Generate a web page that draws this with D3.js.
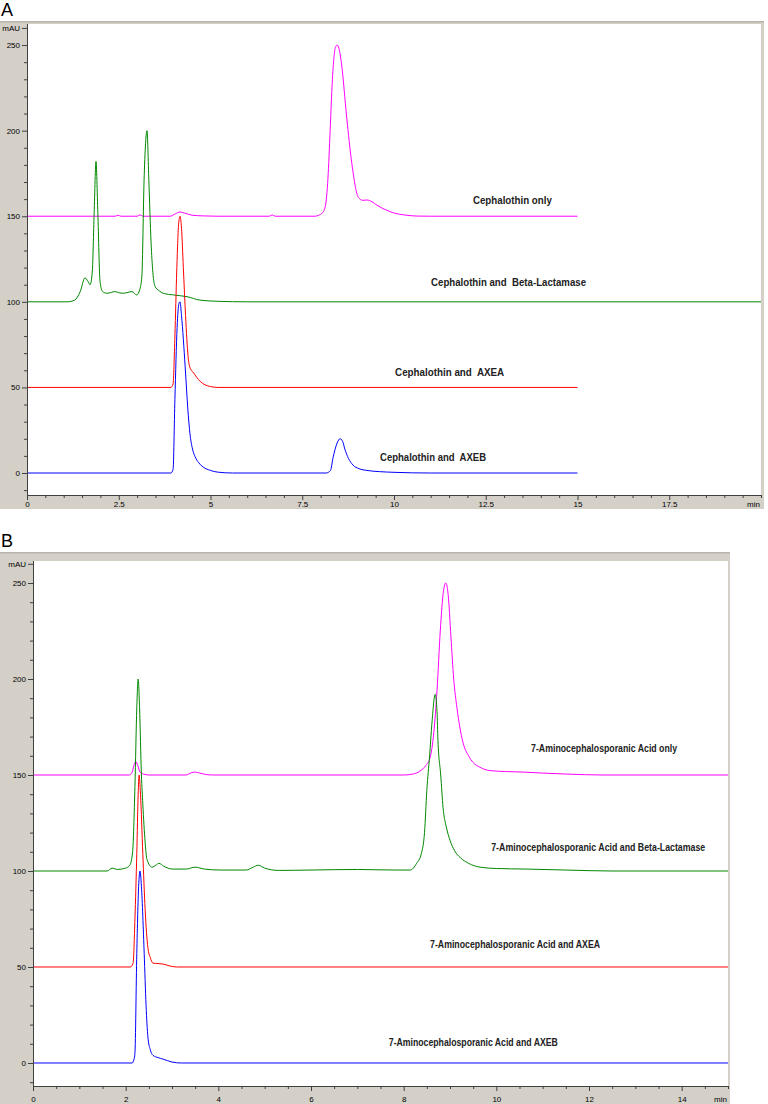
<!DOCTYPE html>
<html>
<head>
<meta charset="utf-8">
<script src="https://cdn.jsdelivr.net/npm/d3@7"></script>
<style>
  body { margin: 0; background: #fff; }
  svg { display: block; }
  .tick text { font-family: "Liberation Sans", Arial, sans-serif; font-size: 8px; fill: #000; }
  .tick line, .domain { stroke: #404040; }
  .trace-label { font-family: "Liberation Sans Narrow", "Arial Narrow", "Liberation Sans", sans-serif; font-weight: bold; font-size: 11px; fill: #222; white-space: pre; }
  .panel-letter { font-family: "Liberation Sans", Arial, sans-serif; font-size: 18px; fill: #000; }
</style>
</head>
<body>
<div id="wrapper"></div>
<script>
// ---- DATA (time in min, signal in mAU incl. stacking offset) ----
const cephOnly = [
  [0,150],[2.4,150],[2.48,150.6],[2.56,150],[3.0,150],[3.08,150.8],[3.16,150],[3.9,150],[4.05,151.5],
  [4.17,152.5],[4.3,151.8],[4.5,150.6],[4.8,150.2],[5.2,150],[6.6,150],[6.68,150.8],[6.76,150],
  [7.85,150],[7.95,150.6],[8.05,152],[8.13,156],[8.2,172],[8.26,200],[8.31,225],[8.36,242],[8.41,249],
  [8.45,250],[8.5,248],[8.57,239],[8.71,208],[8.85,181],[9.03,161],[9.15,159.3],[9.26,159.5],[9.4,158.5],
  [9.53,156.5],[9.75,154],[9.98,152],[10.3,150.7],[10.63,150.1],[11,150],[15,150]
];
const cephBetaLactamase = [
  [0,100],[1.1,100],[1.3,101],[1.45,106],[1.58,114],[1.66,112],[1.72,110],[1.78,118],[1.83,152],
  [1.88,182],[1.93,152],[1.99,112],[2.06,106],[2.18,105],[2.3,105.5],[2.4,106],[2.52,105.2],[2.62,105],
  [2.75,105.5],[2.86,106],[2.99,104],[3.07,107],[3.13,115],[3.19,171],[3.27,200],[3.32,171],[3.38,135],
  [3.43,117],[3.49,109],[3.6,106.5],[3.71,105],[4.0,104],[4.36,103],[4.71,101],[5.2,100.3],[6,100],[20,100]
];
const cephAXEA = [
  [0,50],[3.92,50],[3.98,52],[4.03,80],[4.08,118],[4.13,145],[4.17,150],[4.21,143],[4.26,120],[4.32,92],
  [4.39,68],[4.45,61],[4.52,59],[4.62,56],[4.72,53.5],[4.85,51.5],[5.0,50.5],[5.2,50],[15,50]
];
const cephAXEB = [
  [0,0],[3.92,0],[3.98,2],[4.03,43],[4.09,85],[4.14,99],[4.17,100],[4.21,92],[4.31,62],[4.38,38],
  [4.44,23],[4.51,14],[4.58,9.5],[4.68,6],[4.8,3.5],[5.0,1.5],[5.2,0.5],[5.6,0],[8.15,0],[8.27,1.5],
  [8.34,9],[8.45,17.5],[8.53,20],[8.6,18.5],[8.66,14],[8.76,8.5],[8.88,4.7],[9.05,2.5],[9.26,1.5],
  [9.6,0.8],[10,0.4],[11,0],[15,0]
];

const acaOnly = [
  [0,150],[2.08,150],[2.14,151.5],[2.19,156],[2.22,157],[2.26,155],[2.31,151.5],[2.38,150.5],[2.5,150],
  [3.3,150],[3.42,151.2],[3.5,151.5],[3.6,151],[3.75,150.2],[3.9,150],[8.0,150],[8.2,150.5],[8.35,152],
  [8.48,155],[8.57,159],[8.65,172],[8.72,194],[8.79,225],[8.86,246],[8.91,250],[8.96,244],[9.02,222],
  [9.08,200],[9.15,185],[9.28,167],[9.4,160],[9.5,156.5],[9.65,154],[9.86,152.3],[10.2,151.8],
  [10.6,151.5],[11.0,151],[11.5,150.5],[12.3,150],[15,150]
];
const acaBetaLactamase = [
  [0,100],[1.6,100],[1.71,101.5],[1.82,100.8],[2.0,101.5],[2.09,103],[2.15,110],[2.2,144],[2.24,185],
  [2.27,200],[2.3,185],[2.34,150],[2.37,135],[2.42,115],[2.46,106],[2.57,102],[2.65,103],[2.72,104],
  [2.82,102.5],[3.02,101],[3.3,101],[3.5,102],[3.7,101],[4.04,100.5],[4.6,100.5],[4.75,102],[4.86,103],
  [5.0,101.5],[5.3,100.3],[6.0,100.5],[7.0,100.8],[7.8,100.5],[8.14,100.5],[8.28,104],[8.38,109],
  [8.45,120],[8.5,142],[8.56,160],[8.61,177],[8.68,192],[8.72,183],[8.74,168],[8.8,150],[8.85,133],
  [8.92,123],[9.0,116],[9.1,110.5],[9.22,107],[9.4,104],[9.65,102],[10.0,101.3],[10.66,101],
  [11.5,100.5],[12.5,100],[15,100]
];
const acaAXEA = [
  [0,50],[2.1,50],[2.16,52],[2.2,75],[2.24,109],[2.27,140],[2.29,150],[2.32,140],[2.37,109],[2.42,80],
  [2.48,60],[2.53,55],[2.59,52],[2.7,51.8],[2.81,51.5],[2.96,50.5],[3.1,50],[15,50]
];
const acaAXEB = [
  [0,0],[2.14,0],[2.18,2],[2.2,5],[2.24,57],[2.28,92],[2.31,100],[2.34,92],[2.4,57],[2.44,30],
  [2.48,13.5],[2.53,7],[2.59,4],[2.7,2.8],[2.81,2],[3.0,0.5],[3.2,0],[15,0]
];

const labelsA = ["Cephalothin only", "Cephalothin and  Beta-Lactamase", "Cephalothin and  AXEA", "Cephalothin and  AXEB"];
const labelsB = ["7-Aminocephalosporanic Acid only", "7-Aminocephalosporanic Acid and Beta-Lactamase",
  "7-Aminocephalosporanic Acid and AXEA", "7-Aminocephalosporanic Acid and AXEB"];
const yMajorTicks = [0, 50, 100, 150, 200, 250, 260];
const xMajorTicksA = [0, 2.5, 5, 7.5, 10, 12.5, 15, 17.5];
const xMajorTicksB = [0, 2, 4, 6, 8, 10, 12, 14];

const colors = ["#ff00ff", "#008800", "#ff0000", "#0000ff"];

// ---- PANELS ----
const panels = [
  {
    id: "A", letterY: 16,
    frame: { x0: 0, y0: 21, x1: 764, y1: 509 },
    plot: { left: 27, right: 761, top: 24, bottom: 495 },
    xDomain: [0, 20], yDomain: [-12.85, 262.3],
    xMajor: xMajorTicksA, xMinorStep: 0.5, xPad: 1,
    traces: [cephOnly, cephBetaLactamase, cephAXEA, cephAXEB],
    labels: labelsA,
    labelPos: [[12.15, 159.5, 79], [11.01, 111.6, 155], [10.03, 59, 109], [9.62, 9.2, 106]]
  },
  {
    id: "B", letterY: 547,
    frame: { x0: 0, y0: 552, x1: 730, y1: 1104 },
    plot: { left: 33, right: 728, top: 561, bottom: 1086 },
    xDomain: [0, 15], yDomain: [-11.98, 261.46],
    xMajor: xMajorTicksB, xMinorStep: 0.5, xPad: 5,
    traces: [acaOnly, acaBetaLactamase, acaAXEA, acaAXEB],
    labels: labelsB,
    labelPos: [[10.75, 164, 146], [9.89, 112.5, 214], [8.57, 62, 170], [7.68, 10.9, 169]]
  }
];

const svg = d3.select("#wrapper")
  .append("svg")
  .attr("width", 768)
  .attr("height", 1104);

svg.append("rect").attr("width", 768).attr("height", 1104).attr("fill", "#fff");

panels.forEach(drawPanel);

function drawPanel(p) {
  const g = svg.append("g");
  const { frame, plot } = p;

  // gray instrument-software frame
  g.append("rect")
    .attr("x", frame.x0).attr("y", frame.y0)
    .attr("width", frame.x1 - frame.x0).attr("height", frame.y1 - frame.y0)
    .attr("fill", "#d4d0c8");
  g.append("rect")
    .attr("x", frame.x0).attr("y", frame.y0)
    .attr("width", frame.x1 - frame.x0).attr("height", 1.5)
    .attr("fill", "#b8b4ac");
  g.append("rect")
    .attr("x", plot.left + 1).attr("y", plot.top)
    .attr("width", plot.right - plot.left - 1).attr("height", plot.bottom - plot.top)
    .attr("fill", "#fff");

  g.append("text")
    .attr("class", "panel-letter")
    .attr("x", 1).attr("y", p.letterY)
    .text(p.id);

  const x = d3.scaleLinear().domain(p.xDomain).range([plot.left, plot.right]);
  const y = d3.scaleLinear().domain(p.yDomain).range([plot.bottom, plot.top]);

  // traces
  const clipId = "clip" + p.id;
  g.append("clipPath").attr("id", clipId)
    .append("rect")
    .attr("x", plot.left + 1).attr("y", plot.top)
    .attr("width", plot.right - plot.left - 1).attr("height", plot.bottom - plot.top);

  const line = d3.line()
    .x(d => x(d[0]))
    .y(d => y(d[1]))
    .curve(d3.curveMonotoneX);

  g.append("g")
    .attr("clip-path", `url(#${clipId})`)
    .selectAll("path")
    .data(p.traces)
    .enter().append("path")
    .attr("d", line)
    .attr("fill", "none")
    .attr("stroke", (d, i) => colors[i])
    .attr("stroke-width", 1);

  // trace labels
  g.selectAll(".trace-label")
    .data(p.labels)
    .enter().append("text")
    .attr("class", "trace-label")
    .attr("x", (d, i) => x(p.labelPos[i][0]))
    .attr("y", (d, i) => y(p.labelPos[i][1]))
    .attr("dy", "0.35em")
    .attr("textLength", (d, i) => p.labelPos[i][2])
    .attr("lengthAdjust", "spacingAndGlyphs")
    .text(d => d);

  // y axis
  const yMinor = d3.range(-10, 261, 10).filter(v => !yMajorTicks.includes(v));
  g.append("g")
    .attr("transform", `translate(${plot.left},0)`)
    .call(d3.axisLeft(y).tickValues(yMinor).tickSize(3).tickFormat(""))
    .call(a => a.select(".domain").remove());
  g.append("g")
    .attr("transform", `translate(${plot.left},0)`)
    .call(d3.axisLeft(y).tickValues(yMajorTicks).tickSize(5).tickPadding(2)
      .tickFormat(d => d === 260 ? "mAU" : d))
    .call(a => a.select(".domain").attr("d", `M0.5,${plot.top}V${plot.bottom}`));

  // x axis
  const xMinor = d3.range(p.xDomain[0], p.xDomain[1] + 0.01, p.xMinorStep)
    .filter(v => !p.xMajor.includes(v));
  g.append("g")
    .attr("transform", `translate(0,${plot.bottom})`)
    .call(d3.axisBottom(x).tickValues(xMinor).tickSize(3).tickFormat(""))
    .call(a => a.select(".domain").remove());
  g.append("g")
    .attr("transform", `translate(0,${plot.bottom})`)
    .call(d3.axisBottom(x).tickValues(p.xMajor).tickSize(5).tickPadding(p.xPad)
      .tickFormat(d => String(d)))
    .call(a => a.select(".domain").attr("d", `M${plot.left},0.5H${plot.right}`));

  g.append("text")
    .attr("x", plot.right - 1)
    .attr("y", plot.bottom + 5 + p.xPad)
    .attr("dy", "0.71em")
    .attr("text-anchor", "end")
    .attr("font-family", "Liberation Sans, Arial, sans-serif")
    .attr("font-size", 8)
    .text("min");
}
</script>
</body>
</html>
